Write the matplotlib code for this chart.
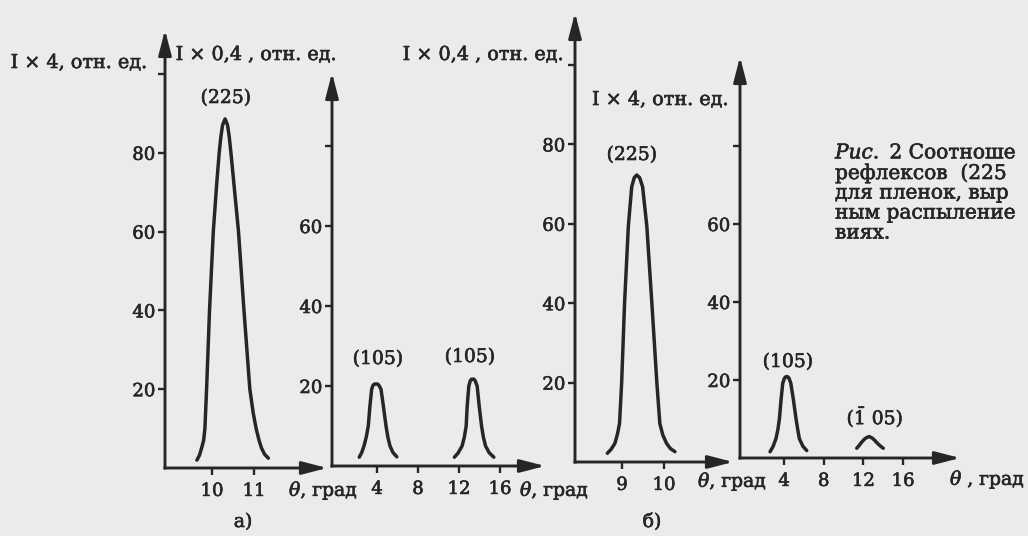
import matplotlib
matplotlib.use("Agg")
import matplotlib.pyplot as plt
import matplotlib.patheffects as pe

# values (theta in degrees, intensity in rel. units)
# а) left: reflex (225), I x 4
theta_a225 = [9.64, 9.70, 9.75, 9.80, 9.83, 9.87, 9.94, 10.03, 10.11, 10.17, 10.21, 10.25, 10.31,
              10.37, 10.41, 10.45, 10.54, 10.63, 10.76, 10.90, 10.98, 11.05, 11.12, 11.18, 11.25, 11.34]
int_a225 = [2.0, 3.2, 5.0, 7.0, 10, 20, 40, 60, 72, 80, 84, 87, 88.6,
            87, 84, 80, 70, 60, 40, 20, 14, 10, 7, 5, 3.5, 2.5]
# а) right: two (105) reflexes, I x 0,4
theta_a105_1 = [2.27, 2.50, 2.73, 2.95, 3.15, 3.31, 3.48, 3.62, 3.76, 3.90, 4.04, 4.18, 4.39,
                4.62, 4.88, 5.06, 5.27, 5.55, 5.93]
int_a105_1 = [2.2, 3.3, 5, 7.2, 10, 15, 19.2, 20.2, 20.5, 20.5, 20.5, 20.2, 19.2,
              15, 10, 7.2, 5, 3.4, 2.3]
theta_a105_2 = [11.55, 11.90, 12.30, 12.52, 12.70, 12.80, 12.96, 13.10, 13.22, 13.34, 13.46, 13.58,
                13.77, 13.97, 14.20, 14.38, 14.59, 14.95, 15.40]
int_a105_2 = [2.2, 3.2, 5, 7.2, 10, 15, 20, 21.3, 21.7, 21.7, 21.7, 21.3,
              20, 15, 10, 7.2, 5, 3.3, 2.2]
# б) left: reflex (225), I x 0,4
theta_b225 = [8.65, 8.74, 8.83, 8.89, 8.94, 8.99, 9.06, 9.15, 9.23, 9.29, 9.35, 9.42, 9.49,
              9.59, 9.71, 9.83, 9.90, 9.97, 10.06, 10.15, 10.26]
int_b225 = [2.2, 3.2, 4.7, 7.0, 9.7, 19.8, 40, 59.4, 69.3, 71.6, 72.3, 71.6, 69.3,
            59.4, 40, 19.8, 9.7, 6.8, 4.7, 3.4, 2.6]
# б) right: (105) and (-105), I x 4
theta_b105 = [2.59, 2.90, 3.19, 3.38, 3.53, 3.70, 3.87, 4.05, 4.16, 4.27, 4.38, 4.49, 4.68,
              4.94, 5.21, 5.38, 5.54, 5.90, 6.29]
int_b105 = [1.6, 3.0, 5, 7.3, 10, 15, 19.2, 20.5, 20.8, 20.9, 20.8, 20.5, 19.2,
            15, 10, 7.3, 5, 3.0, 1.9]
theta_bm105 = [11.33, 11.6, 11.8, 12.05, 12.3, 12.57, 12.9, 13.15, 13.4, 13.7, 14.0]
int_bm105 = [2.5, 3.3, 4.0, 4.7, 5.2, 5.5, 5.1, 4.5, 3.8, 3.1, 2.5]

yticks_left = [20, 40, 60, 80, 100]
ylabels_left = ['20', '40', '60', '80', '']
yticks_right = [20, 40, 60, 80]
ylabels_right = ['20', '40', '60', '']
xticks_a225 = [10, 11]
xticks_b225 = [9, 10]
xticks_105 = [4, 8, 12, 16]

W, H = 1028, 536
BG = '#ebebe9'
INK = '#262626'
BOLD = [pe.withStroke(linewidth=0.45, foreground=INK)]

plt.rcParams['font.family'] = ['DejaVu Serif']
plt.rcParams['mathtext.fontset'] = 'dejavuserif'

fig = plt.figure(figsize=(W / 100, H / 100), dpi=100, facecolor=BG)


def ftext(x, y, s, **kw):
    kw.setdefault('fontsize', 13.5)
    kw.setdefault('color', INK)
    kw.setdefault('va', 'center')
    fig.text(x / W, 1 - y / H, s, path_effects=BOLD, **kw)


def panel(x0, y0, xt, yt, xmin, sx, sy):
    # x0,y0 = pixel of the origin, xt/yt = arrow tips, sx/sy = px per unit
    ax = fig.add_axes([x0 / W, 1 - y0 / H, (xt - x0) / W, (y0 - yt) / H])
    ax.set_xlim(xmin, xmin + (xt - x0) / sx)
    ax.set_ylim(0, (y0 - yt) / sy)
    ax.patch.set_alpha(0)
    for s in ax.spines.values():
        s.set_visible(False)
    ap = dict(arrowstyle='-|>,head_length=1.0,head_width=0.26', color=INK, lw=2.1,
              mutation_scale=15, shrinkA=0, shrinkB=0, capstyle='projecting')
    ax.annotate('', xy=(1, 0), xytext=(0, 0), xycoords='axes fraction', arrowprops=ap)
    ax.annotate('', xy=(0, 1), xytext=(0, 0), xycoords='axes fraction', arrowprops=ap)
    ax.tick_params(axis='y', direction='out', length=5, width=1.7, pad=2,
                   labelsize=13, colors=INK)
    ax.tick_params(axis='x', direction='out', length=5, width=1.7, pad=5,
                   labelsize=13, colors=INK)
    return ax


lw = 2.5
style = dict(color=INK, lw=lw, solid_capstyle='round', solid_joinstyle='round')

# а) left
ax1 = panel(165, 468, 327, 30, 8.88, 42, 3.94)
ax1.plot(theta_a225, int_a225, **style)
ax1.set_yticks(yticks_left, ylabels_left)
ax1.set_xticks(xticks_a225, [str(v) for v in xticks_a225])

# а) right
ax2 = panel(332, 466, 545, 73, -0.39, 10.25, 4.0)
ax2.plot(theta_a105_1, int_a105_1, **style)
ax2.plot(theta_a105_2, int_a105_2, **style)
ax2.set_yticks(yticks_right, ylabels_right)
ax2.set_xticks(xticks_105, [str(v) for v in xticks_105])

# б) left
ax3 = panel(575, 462, 733, 13, 7.88, 42, 3.97)
ax3.plot(theta_b225, int_b225, **style)
ax3.set_yticks(yticks_left, ylabels_left)
ax3.set_xticks(xticks_b225, [str(v) for v in xticks_b225])

# б) right
ax4 = panel(740, 458, 960, 57, -0.44, 9.92, 3.9)
ax4.plot(theta_b105, int_b105, **style)
ax4.plot(theta_bm105, int_bm105, **style)
ax4.set_yticks(yticks_right, ylabels_right)
ax4.set_xticks(xticks_105, [str(v) for v in xticks_105])

for ax in (ax1, ax2, ax3, ax4):
    for t in ax.get_xticklabels() + ax.get_yticklabels():
        t.set_path_effects(BOLD)

# peak labels
ftext(226, 98, '(225)', ha='center')
ftext(378, 359, '(105)', ha='center')
ftext(470, 357, '(105)', ha='center')
ftext(632, 155, '(225)', ha='center')
ftext(788, 362, '(105)', ha='center')
ftext(875, 417, r'$(\bar{1}\ 05)$', ha='center')

# axis labels
ftext(147, 63, 'I × 4, отн. ед.', ha='right', fontsize=13.8)
ftext(256, 55, 'I × 0,4 , отн. ед.', ha='center', fontsize=13.8)
ftext(483, 55, 'I × 0,4 , отн. ед.', ha='center', fontsize=13.8)
ftext(592, 100, 'I × 4, отн. ед.', ha='left', fontsize=13.8)

ftext(289, 491, r'$\theta$, град', ha='left')
ftext(520, 491, r'$\theta$, град', ha='left')
ftext(698, 482, r'$\theta$, град', ha='left')
ftext(950, 480, r'$\theta$ , град', ha='left')

ftext(243, 522, 'а)', ha='center')
ftext(652, 522, 'б)', ha='center')

# caption, cut by the page edge as in the scan
cap = [r'$\it{Рис.}$ 2 Соотноше', 'рефлексов  (225', 'для пленок, выр', 'ным распыление', 'виях.']
for i, line in enumerate(cap):
    ftext(835, 153 + 20 * i, line, ha='left', fontsize=14.5)

fig.savefig('out.png', dpi=100, facecolor=BG)
